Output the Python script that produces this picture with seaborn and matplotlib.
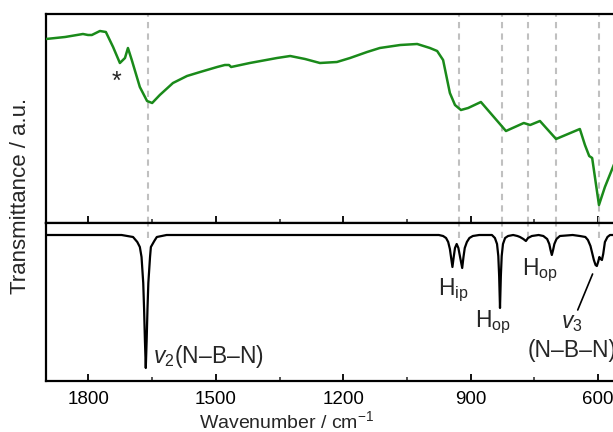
import numpy as np
import pandas as pd
import matplotlib
matplotlib.use("Agg")
import matplotlib.pyplot as plt
import seaborn as sns

# experimental spectrum (top panel), wavenumber / cm-1 and transmittance (a.u.)
exp_wn = [1900, 1855, 1813, 1801, 1792, 1773, 1759, 1742, 1726, 1714, 1707, 1698,
          1679, 1662, 1650, 1632, 1601, 1568, 1537, 1497, 1479, 1469, 1464, 1420,
          1356, 1325, 1290, 1255, 1215, 1184, 1144, 1114, 1066, 1026, 996, 979,
          965, 949, 937, 923, 906, 876, 817, 775, 760, 737, 699, 643, 631, 621,
          614, 598, 584, 565, 550, 520]
exp_T = [184, 186, 189, 188, 188, 192, 191, 176, 160, 165, 175, 163,
         136, 122, 120, 128, 140, 147, 151, 156, 158, 158, 156, 160,
         165, 167, 164, 160, 161, 165, 171, 175, 178, 179, 175, 172,
         163, 130, 118, 113, 115, 121, 92, 100, 98, 102, 84, 94, 78, 67,
         65, 18, 36, 56, 72, 85]

# calculated spectrum (bottom panel)
calc_wn = [1900, 1760, 1722, 1695, 1685, 1679, 1675, 1671, 1669, 1667, 1665,
           1663, 1661, 1659, 1655, 1653, 1645, 1639, 1616,
           1000, 975, 965, 958, 953, 949, 946, 943, 940, 937, 933, 929, 925,
           920, 917, 914, 909, 903, 895, 880,
           850, 843, 838, 835, 833, 831, 829, 827, 824, 819, 812,
           800, 790, 784, 776, 770, 765, 756, 740, 729, 720, 715, 712, 709,
           706, 703, 698, 690, 660,
           643, 630, 624, 618, 614, 610, 606, 603, 600, 597, 594, 591, 588,
           584, 578, 572, 560, 500]
calc_T = [146, 146, 146, 144, 139, 134, 124, 98, 72, 40, 13,
          40, 72, 98, 124, 134, 140, 144, 146,
          146, 146, 145, 143, 139, 132, 123, 114, 124, 133, 137, 133, 124,
          113, 124, 133, 139, 143, 145, 146,
          146, 143, 137, 125, 105, 73, 105, 125, 137, 143, 145,
          146, 145, 144, 142, 140, 143, 145, 146, 145, 142, 137, 131, 126,
          131, 137, 142, 145, 146,
          145, 144, 141, 135, 128, 121, 116, 115, 119, 124, 122, 121, 127,
          139, 144, 146, 146, 146]

mark_wn = [1659, 927, 826, 764, 700, 598]
major_ticks = [1800, 1500, 1200, 900, 600]
minor_ticks = [1650, 1350, 1050, 750]

exp_df = pd.DataFrame({"wn": exp_wn, "T": exp_T})
calc_df = pd.DataFrame({"wn": calc_wn, "T": calc_T})

sns.set_theme(style="ticks")
plt.rcParams["font.family"] = ["Liberation Sans", "DejaVu Sans"]
plt.rcParams["mathtext.fontset"] = "custom"
plt.rcParams["mathtext.rm"] = "Liberation Sans"
plt.rcParams["mathtext.it"] = "Liberation Sans:italic"

fig = plt.figure(figsize=(6.13, 4.32), dpi=100)
ax_top = fig.add_axes([0.075, 0.4838, 0.970, 0.4838])
ax_bot = fig.add_axes([0.075, 0.1181, 0.970, 0.3657])

sns.lineplot(data=exp_df, x="wn", y="T", ax=ax_top, color="#1a8a1a",
             linewidth=1.8, estimator=None, sort=False, zorder=3)
sns.lineplot(data=calc_df, x="wn", y="T", ax=ax_bot, color="black",
             linewidth=1.6, estimator=None, sort=False, zorder=3)

ax_top.set_ylim(0, 209)
ax_bot.set_ylim(0, 158)
for x in mark_wn:
    ax_top.axvline(x, color="#c0c0c0", ls=(0, (3, 2.5)), lw=1.5, zorder=1)
    ax_bot.vlines(x, 143, 158, color="#c0c0c0", ls=(0, (3, 2.5)), lw=1.5, zorder=1)

for ax in (ax_top, ax_bot):
    ax.set_xlim(1900, 500)
    ax.set_xticks(major_ticks)
    ax.set_xticks(minor_ticks, minor=True)
    ax.set_yticks([])
    ax.set_xlabel("")
    ax.set_ylabel("")
    ax.tick_params(axis="x", which="major", direction="in", length=5, width=1.3,
                   labelsize=13.5, pad=7, colors="black")
    ax.tick_params(axis="x", which="minor", direction="in", length=3, width=1.1)
    for s in ax.spines.values():
        s.set_linewidth(1.6)
        s.set_color("black")
ax_top.tick_params(axis="x", labelbottom=False)

# annotations
ax_top.text(1733, 141, "*", fontsize=18, ha="center", va="center")
fs = 16.5
ax_bot.text(1648, 24, "$\\it{v}$$_2$(N–B–N)", fontsize=fs, ha="left", va="center")
ax_bot.text(942, 91, "H$_{\\rm ip}$", fontsize=fs, ha="center", va="center")
ax_bot.text(847, 59, "H$_{\\rm op}$", fontsize=fs, ha="center", va="center")
ax_bot.text(737, 111, "H$_{\\rm op}$", fontsize=fs, ha="center", va="center")
ax_bot.text(661, 58, "$\\it{v}$$_3$", fontsize=fs, ha="center", va="center")
ax_bot.text(765, 30, "(N–B–N)", fontsize=fs, ha="left", va="center")
ax_bot.plot([613, 648], [107, 71], color="black", lw=1.2)

fig.text(0.033, 0.546, "Transmittance / a.u.", rotation=90, ha="center",
         va="center", fontsize=16)
fig.text(0.468, 0.026, "Wavenumber / cm$^{-1}$", ha="center", va="center",
         fontsize=14)

fig.savefig("out.png", dpi=100)
plt.close(fig)
